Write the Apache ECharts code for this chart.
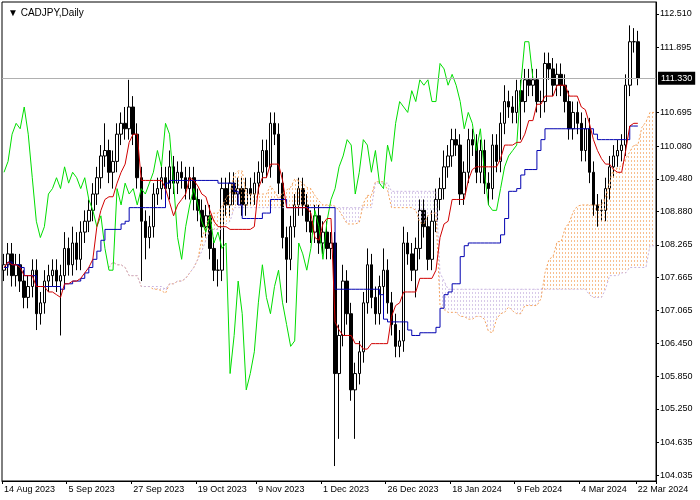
<!DOCTYPE html>
<html><head><meta charset="utf-8">
<script src="https://cdn.jsdelivr.net/npm/echarts@6/dist/echarts.min.js"></script>
<style>html,body{margin:0;padding:0;background:#fff}#c{width:700px;height:500px}</style>
</head><body><div id="c"></div>
<script>
const firstOpen = 107.8;
const closes = [107.9,108.1,107.7,107.9,107.6,107.3,107.5,107.8,107.0,107.2,107.6,107.7,107.8,107.6,107.7,108.2,107.9,108.3,108.0,108.5,108.7,108.9,109.2,109.5,109.9,110.0,109.6,109.8,110.3,110.5,110.4,110.8,110.3,109.5,108.7,108.4,108.6,109.2,109.3,109.5,109.3,109.7,109.4,109.6,109.5,109.3,109.5,109.1,108.9,108.6,108.8,108.2,107.8,107.8,109.3,109.0,109.4,109.2,109.3,109.0,109.3,109.2,109.4,109.6,110.0,109.7,110.5,110.3,109.4,108.4,108.0,108.6,109.0,109.3,109.0,108.7,108.5,108.8,108.3,108.5,108.2,108.3,105.9,106.6,107.6,107.0,105.6,105.9,106.3,107.2,107.9,107.3,107.0,107.5,107.8,107.2,106.8,106.4,106.5,108.3,108.1,107.8,108.2,108.9,108.6,108.0,108.7,109.1,109.3,109.7,109.9,110.2,110.1,109.2,109.6,110.2,110.1,109.6,110.0,109.4,109.3,110.1,109.8,110.5,110.9,110.8,110.7,111.1,110.9,111.3,111.2,111.3,110.9,110.9,111.6,111.5,111.2,111.4,111.2,110.9,110.4,110.7,110.5,110.0,110.4,109.6,109.0,108.9,108.9,109.3,109.7,109.9,110.0,110.1,111.2,112.0,112.0,111.33];
const highs = [108.1,108.3,108.3,108.1,108.1,107.8,107.7,108.0,108.0,107.4,107.8,107.9,108.0,108.0,107.9,108.5,108.4,108.6,108.5,108.7,108.9,109.1,109.4,109.7,110.1,110.5,110.2,110.0,110.5,110.7,110.8,111.3,111.0,110.5,109.7,108.9,108.8,109.4,109.5,109.7,109.7,110.0,109.9,109.8,109.8,109.7,109.7,109.7,109.3,109.1,109.0,109.0,108.4,108.0,109.5,109.5,109.6,109.6,109.5,109.5,109.5,109.5,109.6,109.8,110.2,110.2,110.7,110.7,110.5,109.6,108.6,108.8,109.2,109.5,109.5,109.2,108.9,109.0,109.0,108.7,108.7,108.5,108.5,106.8,107.9,107.8,107.2,106.1,106.5,107.4,108.2,108.1,107.5,107.7,108.2,108.0,107.4,107.0,106.7,108.6,108.5,108.3,108.4,109.1,109.1,108.8,108.9,109.3,109.5,110.0,110.1,110.4,110.4,110.3,109.8,110.4,110.4,110.3,110.2,110.2,109.6,110.3,110.3,110.7,111.2,111.1,111.0,111.3,111.3,111.5,111.5,111.5,111.5,111.1,111.8,111.8,111.7,111.6,111.6,111.4,111.1,110.9,110.9,110.7,110.6,110.6,109.8,109.2,109.1,109.5,109.9,110.1,110.2,110.3,111.4,112.3,112.25,112.2];
const lows = [107.6,107.7,107.5,107.5,107.4,107.1,107.1,107.3,106.7,106.8,107.0,107.4,107.5,107.4,106.6,107.5,107.7,107.7,107.8,107.8,108.3,108.5,108.7,109.0,109.3,109.7,109.4,109.3,109.6,110.1,110.2,110.2,110.1,109.3,107.6,108.0,108.2,108.4,109.0,109.1,109.1,109.1,109.2,109.2,109.3,109.1,109.1,108.9,108.7,108.4,108.4,108.0,107.6,107.5,107.6,108.8,108.8,109.0,109.0,108.8,108.8,109.0,109.0,109.2,109.4,109.5,109.5,110.1,109.2,108.2,107.2,107.8,108.4,108.8,108.8,108.5,108.3,108.3,108.1,108.1,108.0,108.0,104.2,104.7,106.4,106.8,105.4,104.7,105.7,106.1,107.0,107.1,106.8,106.8,107.3,107.0,106.6,106.2,106.2,106.3,107.9,107.6,107.3,108.0,108.4,107.8,107.8,108.5,108.9,109.1,109.5,109.7,109.9,109.0,109.0,109.4,109.9,109.4,109.4,109.2,109.0,109.1,109.6,109.6,110.3,110.6,110.5,110.5,110.2,110.7,111.0,111.0,110.7,110.6,110.7,111.3,111.0,111.0,111.0,110.7,110.2,110.2,110.3,109.8,109.8,109.4,108.8,108.6,108.7,108.7,109.1,109.5,109.7,109.8,109.9,111.0,111.8,111.2];
const yTicks = [104.035,104.635,105.250,105.850,106.450,107.065,107.665,108.265,108.880,109.480,110.080,110.695,111.895,112.510];
const lastPrice = 111.33;
const dateLabels = {0:'14 Aug 2023',16:'5 Sep 2023',32:'27 Sep 2023',48:'19 Oct 2023',63:'9 Nov 2023',79:'1 Dec 2023',95:'26 Dec 2023',111:'18 Jan 2024',127:'9 Feb 2024',143:'4 Mar 2024',157:'22 Mar 2024'};
const futureBars = 4;

const n = closes.length, N = n + futureBars;
const cats = []; for (let i=0;i<N;i++) cats.push(String(i));
const opens = closes.map((c,i)=> i===0 ? firstOpen : closes[i-1]);
const ohlc = closes.map((c,i)=>[opens[i], c, lows[i], highs[i]]);
function mid(i,p){let s=Math.max(0,i-p+1),h=-1e9,l=1e9;for(let k=s;k<=i;k++){h=Math.max(h,highs[k]);l=Math.min(l,lows[k]);}return (h+l)/2;}
const tenkan=[],kijun=[],chikou=[],spanA=new Array(N).fill(null),spanB=new Array(N).fill(null);
for(let i=0;i<n;i++){tenkan.push(+mid(i,9).toFixed(3));kijun.push(+mid(i,26).toFixed(3));
  chikou.push(i+26<n?closes[i+26]:null);
  if(i+26<N){spanA[i+26]=(mid(i,9)+mid(i,26))/2;spanB[i+26]=mid(i,52);}}
const base=[],up=[],dn=[];
for(let i=0;i<N;i++){if(spanA[i]==null){base.push(null);up.push(null);dn.push(null);continue;}
  const a=spanA[i],b=spanB[i];base.push(Math.min(a,b));up.push(a>=b?a-b:0);dn.push(b>a?b-a:0);}
function pat(col){const c=document.createElement('canvas');c.width=3;c.height=4;const x=c.getContext('2d');x.fillStyle=col;x.fillRect(1,0,1,2);return {image:c,repeat:'repeat'};}

const chart=echarts.init(document.getElementById('c'));
chart.setOption({
  animation:false,
  title:{text:'▼ CADJPY,Daily',left:3,top:3,textStyle:{fontSize:10,fontWeight:'normal',color:'#000',fontFamily:'Arial'}},
  grid:{left:2,right:44,top:2,bottom:19,show:true,borderColor:'#000',borderWidth:1},
  xAxis:{type:'category',data:cats,boundaryGap:true,
    axisLine:{lineStyle:{color:'#000'}},
    axisTick:{show:true,interval:(i)=>dateLabels[i]!==undefined,lineStyle:{color:'#000'},length:3},
    axisLabel:{interval:0,formatter:(v,i)=>dateLabels[i]||'',align:'left',fontSize:9,color:'#000',fontFamily:'Arial',margin:4}},
  yAxis:{type:'value',position:'right',min:103.925,max:112.73,scale:true,splitLine:{show:false},
    axisLine:{show:true,lineStyle:{color:'#000'}},
    axisTick:{show:true,customValues:yTicks,length:3,lineStyle:{color:'#000'}},
    axisLabel:{customValues:yTicks,formatter:v=>v.toFixed(3),fontSize:9,color:'#000',fontFamily:'Arial',margin:4}},
  series:[
    {type:'line',data:base,stack:'c',symbol:'none',lineStyle:{width:0},areaStyle:{opacity:0},silent:true},
    {type:'line',data:up,stack:'c',symbol:'none',lineStyle:{width:0},areaStyle:{color:pat('#f4a460')},silent:true},
    {type:'line',data:dn,stack:'c',symbol:'none',lineStyle:{width:0},areaStyle:{color:pat('#c8b4e0')},silent:true},
    {type:'line',data:spanA,symbol:'none',lineStyle:{width:1,color:'#f4a460',type:[2,2]}},
    {type:'line',data:spanB,symbol:'none',lineStyle:{width:1,color:'#c8b4e0',type:[2,2]}},
    {type:'line',data:chikou,symbol:'none',lineStyle:{width:1,color:'#00dd00'}},
    {type:'line',data:kijun,symbol:'none',step:'end',lineStyle:{width:1,color:'#0000b0'}},
    {type:'line',data:tenkan,symbol:'none',lineStyle:{width:1,color:'#d00000'}},
    {type:'candlestick',data:ohlc,barWidth:3,
      itemStyle:{color:'#fff',color0:'#000',borderColor:'#000',borderColor0:'#000',borderWidth:1},
      markLine:{symbol:'none',silent:true,animation:false,data:[{yAxis:lastPrice}],
        lineStyle:{color:'#b0b0b0',width:1,type:'solid'},
        label:{position:'end',formatter:()=>lastPrice.toFixed(3),backgroundColor:'#000',color:'#fff',fontSize:9,fontFamily:'Arial',padding:[2,3],distance:2}}}
  ]
});
</script></body></html>
